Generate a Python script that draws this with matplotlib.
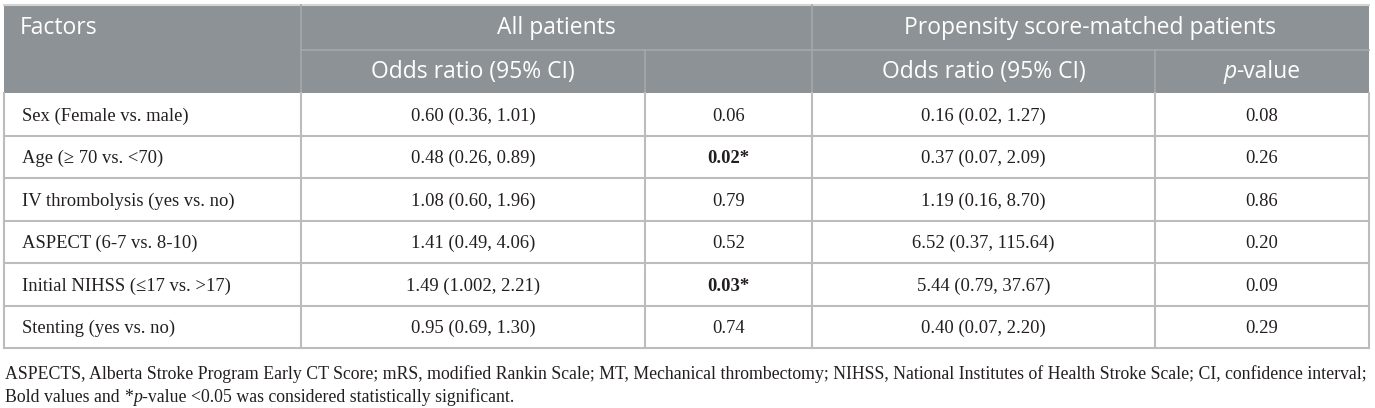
import matplotlib
matplotlib.use("Agg")
import matplotlib.pyplot as plt
from matplotlib.patches import Rectangle

# =========================
# DATA
# =========================

factors = [
    "Sex (Female vs. male)",
    "Age (\u2265 70 vs. <70)",
    "IV thrombolysis (yes vs. no)",
    "ASPECT (6-7 vs. 8-10)",
    "Initial NIHSS (\u226417 vs. >17)",
    "Stenting (yes vs. no)",
]
or_all = [
    "0.60 (0.36, 1.01)",
    "0.48 (0.26, 0.89)",
    "1.08 (0.60, 1.96)",
    "1.41 (0.49, 4.06)",
    "1.49 (1.002, 2.21)",
    "0.95 (0.69, 1.30)",
]
p_all = ["0.06", "0.02*", "0.79", "0.52", "0.03*", "0.74"]
p_all_bold = [False, True, False, False, True, False]
or_psm = [
    "0.16 (0.02, 1.27)",
    "0.37 (0.07, 2.09)",
    "1.19 (0.16, 8.70)",
    "6.52 (0.37, 115.64)",
    "5.44 (0.79, 37.67)",
    "0.40 (0.07, 2.20)",
]
p_psm = ["0.08", "0.26", "0.86", "0.20", "0.09", "0.29"]

group_headers = ["All patients", "Propensity score-matched patients"]
footnote_1 = ("ASPECTS, Alberta Stroke Program Early CT Score; mRS, modified Rankin Scale; "
              "MT, Mechanical thrombectomy; NIHSS, National Institutes of Health Stroke Scale; "
              "CI, confidence interval;")

# =========================
# LAYOUT
# =========================

W, H = 1375, 408
col_x = [4, 301, 645, 812, 1155, 1369]
top, mid, head_bot = 5, 50, 93
row_h = 42.5
row_y = [head_bot + row_h * i for i in range(len(factors) + 1)]

HEAD_BG = "#8c9295"
HEAD_LINE = "#a4a9ab"
GRID = "#bcbcbc"
TXT = "#231f20"
SANS = "Open Sans"
SERIF = "Liberation Serif"
HFS = 16.5
BFS = 13.4
FFS = 12.8

fig = plt.figure(figsize=(W / 100, H / 100), dpi=100)
ax = fig.add_axes([0, 0, 1, 1])
ax.set_xlim(0, W)
ax.set_ylim(H, 0)
ax.axis("off")
renderer = fig.canvas.get_renderer()


def draw_runs(x, y, runs, ha="left", **kw):
    # runs: list of (text, dict of extra props); measured and laid out side by side
    texts = [ax.text(0, y, s, va="center", ha="left", **{**kw, **p}) for s, p in runs]
    widths = [t.get_window_extent(renderer).width for t in texts]
    total = sum(widths)
    start = x - total / 2 if ha == "center" else x
    for t, w in zip(texts, widths):
        t.set_x(start)
        start += w


# header background
ax.add_patch(Rectangle((col_x[0], top), col_x[-1] - col_x[0], head_bot - top,
                       facecolor=HEAD_BG, edgecolor="none", zorder=0))
ax.plot([col_x[0], col_x[-1]], [top - 0.5, top - 0.5], color="#d4d4d4", lw=1.5)

# header lines
ax.plot([col_x[1], col_x[-1]], [mid, mid], color=HEAD_LINE, lw=1.2)
for cx in (col_x[1], col_x[3]):
    ax.plot([cx, cx], [top, head_bot], color=HEAD_LINE, lw=1.2)
for cx in (col_x[2], col_x[4]):
    ax.plot([cx, cx], [mid, head_bot], color=HEAD_LINE, lw=1.2)

# body grid
for yy in row_y[1:]:
    ax.plot([col_x[0], col_x[-1]], [yy, yy], color=GRID, lw=1.5)
for cx in col_x:
    ax.plot([cx, cx], [head_bot, row_y[-1]], color=GRID, lw=1.5)

# header text
hkw = dict(color="white", fontsize=HFS, family=SANS)
ax.text(20, (top + mid) / 2 + 1, "Factors", ha="left", va="center", **hkw)
ax.text((col_x[1] + col_x[3]) / 2, (top + mid) / 2 + 1, group_headers[0],
        ha="center", va="center", **hkw)
ax.text((col_x[3] + col_x[5]) / 2, (top + mid) / 2 + 1, group_headers[1],
        ha="center", va="center", **hkw)
ax.text((col_x[1] + col_x[2]) / 2, (mid + head_bot) / 2 + 1, "Odds ratio (95% CI)",
        ha="center", va="center", **hkw)
ax.text((col_x[3] + col_x[4]) / 2, (mid + head_bot) / 2 + 1, "Odds ratio (95% CI)",
        ha="center", va="center", **hkw)
draw_runs((col_x[4] + col_x[5]) / 2, (mid + head_bot) / 2 + 1,
          [("p", {"style": "italic"}), ("-value", {})], ha="center", **hkw)

# body text
bkw = dict(color=TXT, fontsize=BFS, family=SERIF, va="center")
for i in range(len(factors)):
    yc = (row_y[i] + row_y[i + 1]) / 2 + 2
    ax.text(22, yc, factors[i], ha="left", **bkw)
    ax.text((col_x[1] + col_x[2]) / 2, yc, or_all[i], ha="center", **bkw)
    ax.text((col_x[2] + col_x[3]) / 2, yc, p_all[i], ha="center",
            weight="bold" if p_all_bold[i] else "normal", **bkw)
    ax.text((col_x[3] + col_x[4]) / 2, yc, or_psm[i], ha="center", **bkw)
    ax.text((col_x[4] + col_x[5]) / 2, yc, p_psm[i], ha="center", **bkw)

# footnotes
fkw = dict(color=TXT, fontsize=FFS, family=SERIF)
ax.text(5, 374, footnote_1, ha="left", va="center", **fkw)
draw_runs(5, 397, [("Bold values and ", {}), ("*", {}), ("p", {"style": "italic"}),
                   ("-value <0.05 was considered statistically significant.", {})], **fkw)

fig.savefig("out.png", dpi=100)
